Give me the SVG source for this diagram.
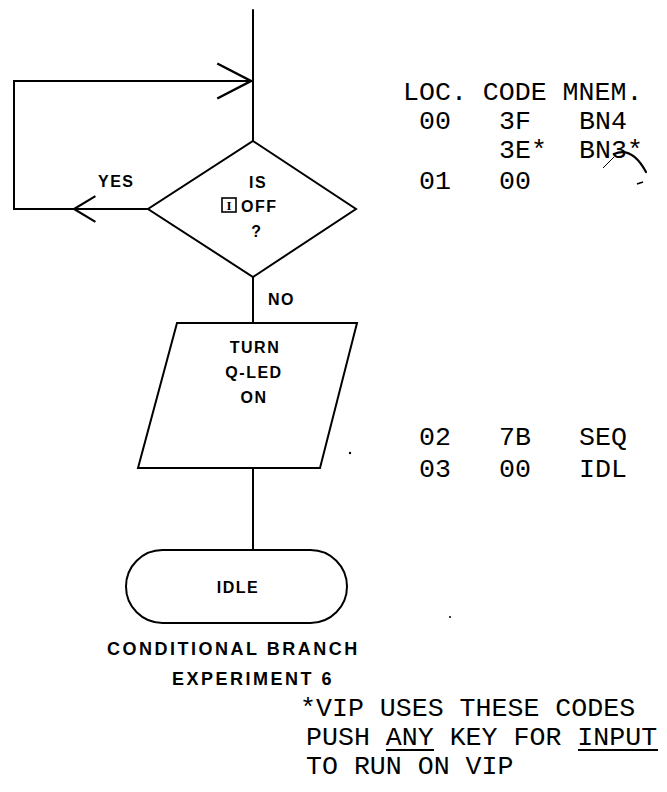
<svg xmlns="http://www.w3.org/2000/svg" width="667" height="792" viewBox="0 0 667 792">
<defs>
<marker id="openArrow" markerUnits="userSpaceOnUse" markerWidth="40" markerHeight="40" refX="0" refY="0" viewBox="-30 -16 32 32" orient="auto" overflow="visible">
<path d="M -27 -14 L 0 0 L -27 14" fill="none" stroke="#000" stroke-width="2"/>
</marker>
<marker id="openArrowSmall" markerUnits="userSpaceOnUse" markerWidth="30" markerHeight="30" refX="0" refY="0" viewBox="-22 -14 24 28" orient="auto" overflow="visible">
<path d="M -20 -12 L 0 0 L -20 12" fill="none" stroke="#000" stroke-width="2"/>
</marker>
</defs>
<style>
.ln{fill:none;stroke:#000;stroke-width:2;stroke-linecap:round;stroke-linejoin:miter}
.shape{fill:#fff;stroke:#000;stroke-width:2}
.lbl{font-family:"Liberation Sans",Arial,sans-serif;font-weight:bold;font-size:16px;letter-spacing:1.5px;fill:#000}
.ttl{font-family:"Liberation Sans",Arial,sans-serif;font-weight:bold;font-size:18px;letter-spacing:2.5px;fill:#000}
.tw{font-family:"Liberation Mono","Courier New",monospace;font-size:26.6px;fill:#000}
.ul{stroke:#000;stroke-width:2}
.dot{fill:#000}
</style>
<rect width="667" height="792" fill="#fff"/>
<g id="connectors">
<path class="ln" d="M 253 10 L 253 141"/>
<path class="ln" d="M 148 209 L 74 209" marker-end="url(#openArrowSmall)"/>
<path class="ln" d="M 74 209 L 14 209 L 14 81 L 251 81" marker-end="url(#openArrow)"/>
<path class="ln" d="M 253 277 L 253 323"/>
<path class="ln" d="M 253 468 L 253 550"/>
<text class="lbl" x="98" y="187">YES</text>
<text class="lbl" x="268" y="305">NO</text>
</g>
<g id="decision">
<polygon class="shape" points="253,141 356,209 253,277 148,209"/>
<text class="lbl" x="258" y="188" text-anchor="middle">IS</text>
<rect x="222" y="198" width="14" height="14" fill="none" stroke="#000" stroke-width="1.6"/>
<text x="229" y="210" text-anchor="middle" font-family="Liberation Serif,serif" font-weight="bold" font-size="13">I</text>
<text class="lbl" x="241" y="212">OFF</text>
<text class="lbl" x="257" y="237" text-anchor="middle">?</text>
</g>
<g id="output">
<polygon class="shape" points="177,323 357,323 320,468 138,468"/>
<text class="lbl" x="255" y="353" text-anchor="middle">TURN</text>
<text class="lbl" x="254" y="378" text-anchor="middle">Q-LED</text>
<text class="lbl" x="254" y="403" text-anchor="middle">ON</text>
</g>
<g id="terminal">
<rect class="shape" x="126" y="550" width="221" height="73" rx="36.5" ry="36.5" stroke-width="1.8"/>
<text class="lbl" x="238" y="593" text-anchor="middle" letter-spacing="2">IDLE</text>
</g>
<g id="caption">
<text class="ttl" x="107" y="655">CONDITIONAL BRANCH</text>
<text class="ttl" x="172" y="685">EXPERIMENT 6</text>
</g>
<g id="code-table">
<text class="tw" x="403" y="100">LOC. CODE MNEM.</text>
<text class="tw" x="419" y="129">00</text>
<text class="tw" x="499" y="129">3F</text>
<text class="tw" x="579" y="129">BN4</text>
<text class="tw" x="499" y="158">3E*</text>
<text class="tw" x="579" y="158">BN3*</text>
<text class="tw" x="419" y="189">01</text>
<text class="tw" x="499" y="189">00</text>
<path d="M 603 168 L 614 157" fill="none" stroke="#000" stroke-width="1"/>
<path d="M 614 154 Q 632 146 646 172" fill="none" stroke="#000" stroke-width="2.2" stroke-linecap="round"/>
<path d="M 637 184 L 643 182" fill="none" stroke="#000" stroke-width="1.5"/>
<text class="tw" x="419" y="445">02</text>
<text class="tw" x="499" y="445">7B</text>
<text class="tw" x="579" y="445">SEQ</text>
<text class="tw" x="419" y="477">03</text>
<text class="tw" x="499" y="477">00</text>
<text class="tw" x="579" y="477">IDL</text>
<circle class="dot" cx="350" cy="453" r="1.2"/>
<circle class="dot" cx="450" cy="617" r="1"/>
</g>
<g id="footnote">
<text class="tw" x="300" y="716">*VIP USES THESE CODES</text>
<text class="tw" x="306" y="745">PUSH ANY KEY FOR INPUT</text>
<line class="ul" x1="386" y1="750" x2="434" y2="750"/>
<line class="ul" x1="578" y1="750" x2="658" y2="750"/>
<text class="tw" x="306" y="774">TO RUN ON VIP</text>
</g>
</svg>
